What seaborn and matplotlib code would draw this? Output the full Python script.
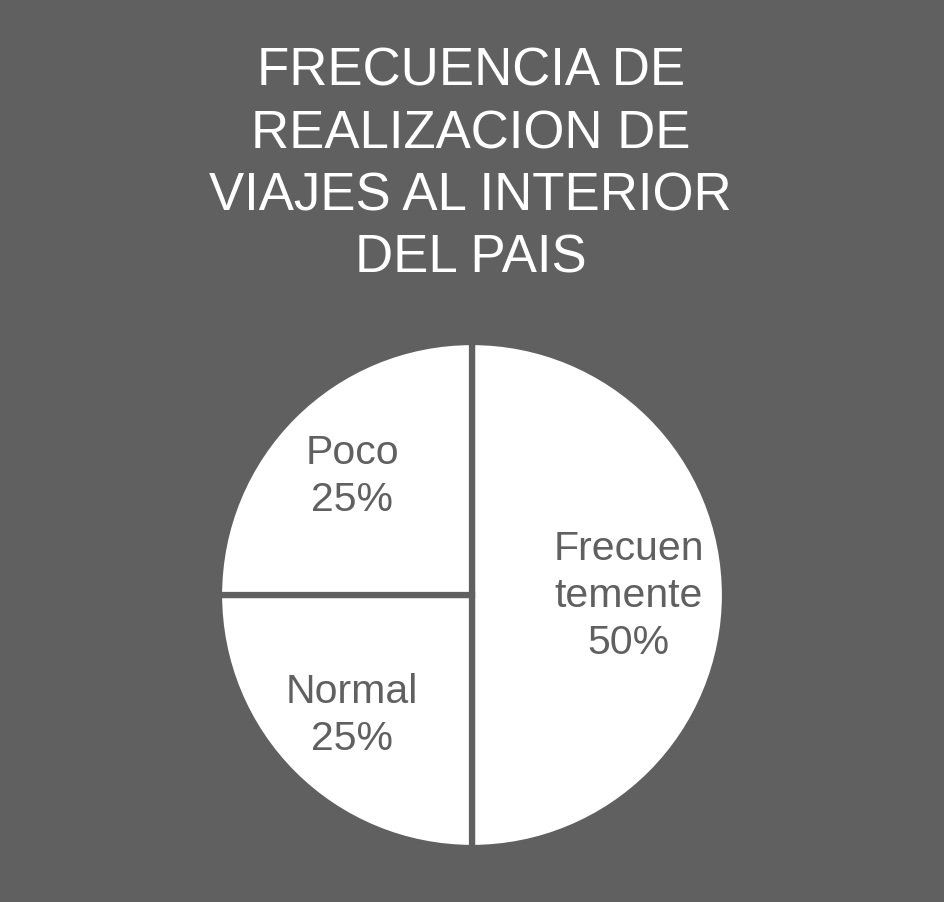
import matplotlib
matplotlib.use("Agg")
import numpy as np
import matplotlib.pyplot as plt
import seaborn as sns

# Datos del gráfico
categorias = ["Frecuentemente", "Normal", "Poco"]
etiquetas = ["Frecuen\ntemente", "Normal", "Poco"]
porcentajes = [50, 25, 25]
titulo = "FRECUENCIA DE\nREALIZACION DE\nVIAJES AL INTERIOR\nDEL PAIS"

fondo = "#606060"

sns.set_theme(style="dark", rc={"figure.facecolor": fondo, "axes.facecolor": fondo})
plt.rcParams["font.family"] = ["Liberation Sans", "DejaVu Sans"]

fig = plt.figure(figsize=(9.45, 9.03), dpi=100)
W, H = 945, 903
cx, cy, r = 472, 903 - 596, 253
ax = fig.add_axes([(cx - r) / W, (cy - r) / H, 2 * r / W, 2 * r / H])

textos = [f"{e}\n{p}%" for e, p in zip(etiquetas, porcentajes)]
wedges, labels = ax.pie(
    porcentajes,
    labels=textos,
    startangle=90,
    counterclock=False,
    colors=["white"] * len(porcentajes),
    wedgeprops={"edgecolor": fondo, "linewidth": 4.5},
    textprops={"color": fondo, "fontsize": 29.5, "linespacing": 1.3},
)

# posición de las etiquetas dentro de cada porción
distancias = [0.62, 0.67, 0.67]
for w, t, d in zip(wedges, labels, distancias):
    ang = np.deg2rad((w.theta1 + w.theta2) / 2)
    t.set_position((d * np.cos(ang), d * np.sin(ang)))
    t.set_ha("center")
    t.set_va("center")
    t.set_multialignment("center")

ax.set_xlim(-1, 1)
ax.set_ylim(-1, 1)
ax.set_aspect("equal")
ax.axis("off")

fig.text(0.498, 1 - 47 / H, titulo, ha="center", va="top", color="white",
         fontsize=38, linespacing=1.31, multialignment="center")

fig.savefig("out.png", dpi=100, facecolor=fondo)
